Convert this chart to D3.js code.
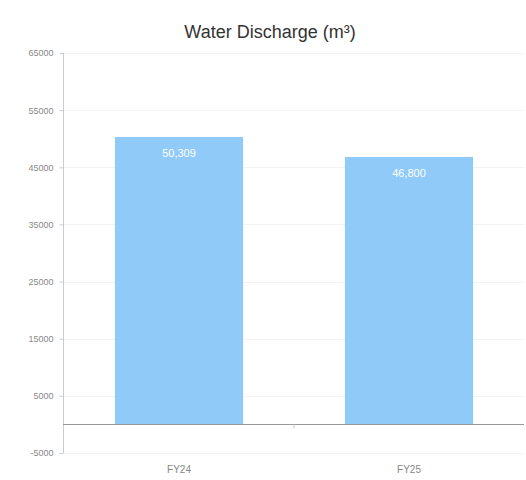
<!DOCTYPE html>
<html><head><meta charset="utf-8">
<script src="https://cdn.jsdelivr.net/npm/d3@7"></script>
<style>body{margin:0;background:#fff;}svg{display:block;font-family:"Liberation Sans",Arial,sans-serif;}</style>
</head><body>
<svg id="c" width="526" height="480"></svg>
<script>
const title = "Water Discharge (m³)";
const categories = ["FY24", "FY25"];
const values = [50309, 46800];
const valueLabels = ["50,309", "46,800"];
const yTicks = [-5000, 5000, 15000, 25000, 35000, 45000, 55000, 65000];

const svg = d3.select("#c");
const x = d3.scaleBand().domain(categories).range([64, 524]).paddingInner(0.443).paddingOuter(0.2215);
const y = d3.scaleLinear().domain([-5000, 65000]).range([453, 53]);

svg.append("text").attr("x", 270).attr("y", 38).attr("text-anchor", "middle")
  .attr("font-size", 18).attr("fill", "#333").text(title);

// faint gridlines
svg.append("g").selectAll("line").data(yTicks).join("line")
  .attr("x1", 64).attr("x2", 524).attr("y1", d => Math.round(y(d)) + 0.5).attr("y2", d => Math.round(y(d)) + 0.5)
  .attr("stroke", "#f3f3f3");

// y axis
const ya = svg.append("g").attr("transform", "translate(63.5,0)")
  .call(d3.axisLeft(y).tickValues(yTicks).tickSize(4).tickPadding(6).tickFormat(d => String(d)));
ya.select(".domain").attr("stroke", "#ccc").attr("d", `M0,${y(65000)}V${y(-5000)}`);
ya.selectAll(".tick line").attr("stroke", "#ccc");
ya.selectAll(".tick text").attr("fill", "#888").attr("font-size", 9);

// bars
svg.append("g").selectAll("rect").data(values).join("rect")
  .attr("x", (d, i) => x(categories[i])).attr("width", x.bandwidth())
  .attr("y", d => y(d)).attr("height", d => y(0) - y(d))
  .attr("fill", "#90caf9");

svg.append("g").selectAll("text").data(values).join("text")
  .attr("x", (d, i) => x(categories[i]) + x.bandwidth() / 2)
  .attr("y", d => y(d) + 20).attr("text-anchor", "middle")
  .attr("fill", "#fff").attr("font-size", 11).text((d, i) => valueLabels[i]);

// x axis at zero
const xa = svg.append("g").attr("transform", `translate(0,${Math.round(y(0)) + 0.5})`)
  .call(d3.axisBottom(x).tickSize(0).tickPadding(41));
xa.select(".domain").attr("stroke", "#999").attr("d", "M63,0H524");
xa.selectAll(".tick text").attr("fill", "#888").attr("font-size", 10);
// boundary tick between categories
const step = x.step();
svg.append("line").attr("x1", x(categories[1]) - (step - x.bandwidth()) / 2).attr("x2", x(categories[1]) - (step - x.bandwidth()) / 2)
  .attr("y1", y(0)).attr("y2", y(0) + 4).attr("stroke", "#ccc");
</script>
</body></html>
